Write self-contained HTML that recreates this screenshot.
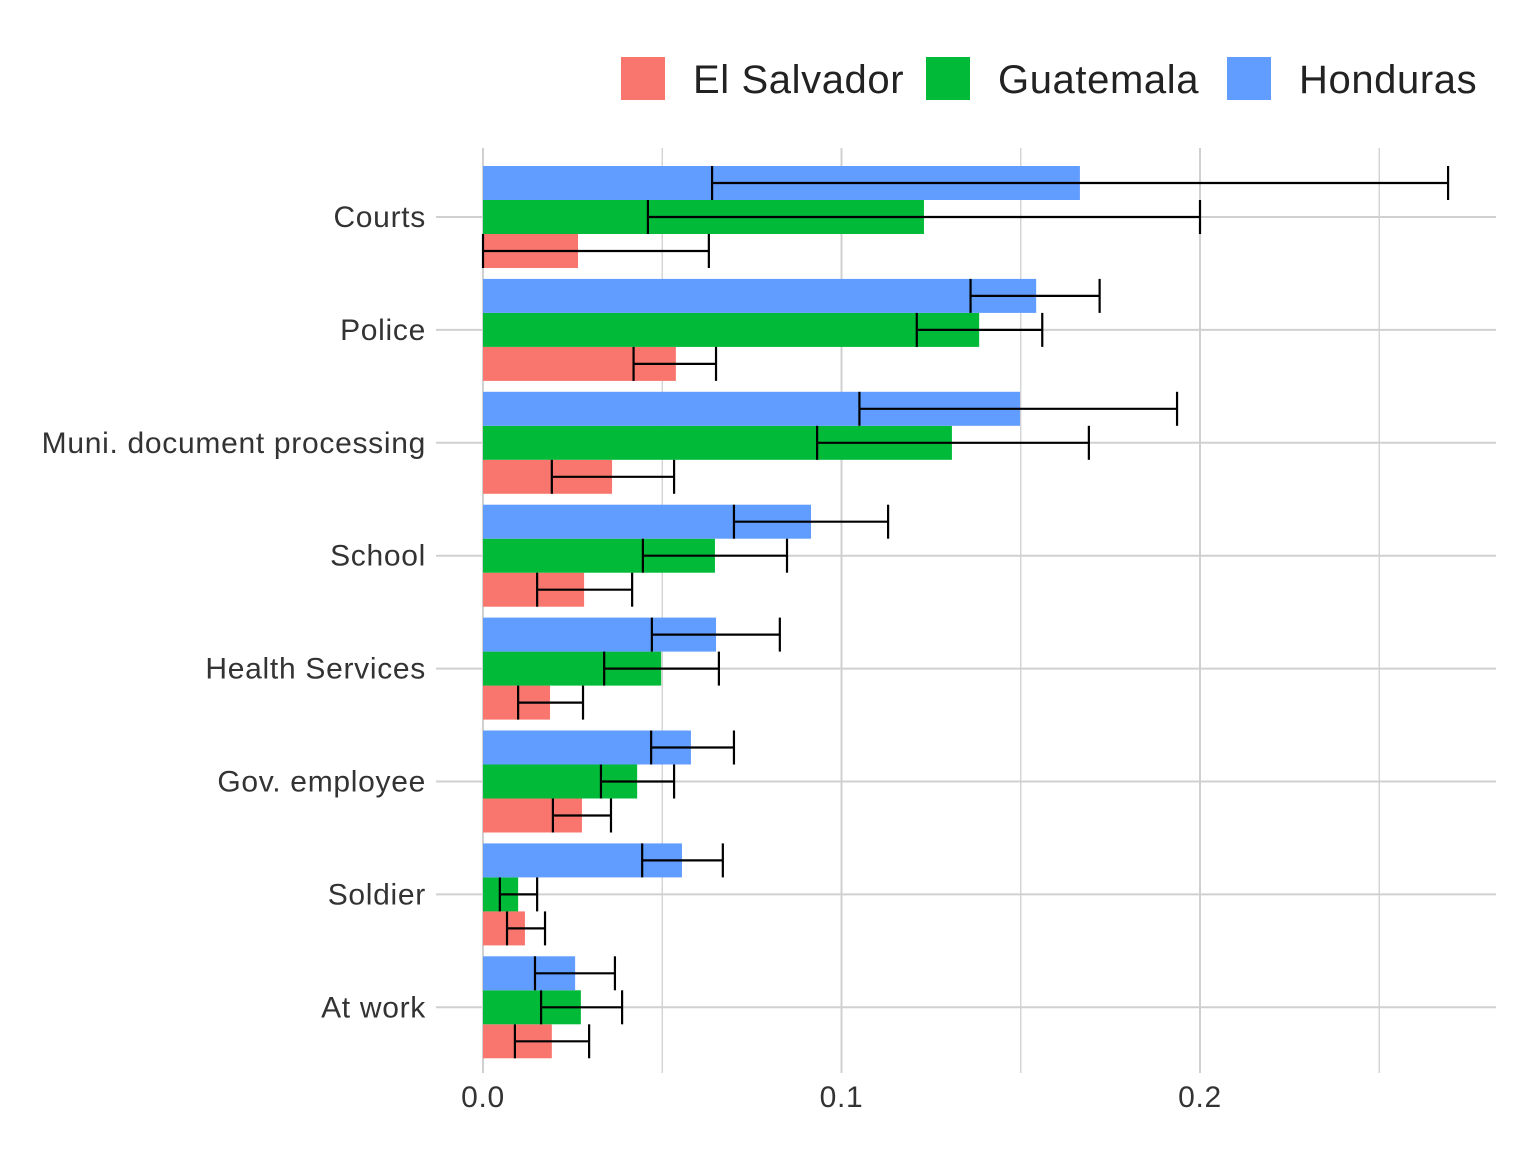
<!DOCTYPE html>
<html><head><meta charset="utf-8"><style>
html,body{margin:0;padding:0;background:#fff;}
svg{display:block;font-family:"Liberation Sans",sans-serif;}
</style></head><body>
<svg id="chart" width="1536" height="1152" viewBox="0 0 1536 1152">
<g id="grid"></g>
<g id="bars"></g>
<g id="errs"></g>
<g id="ylab"></g>
<g id="xlab"></g>
<g id="legend"></g>
</svg>
<script>
const categories=["Courts","Police","Muni. document processing","School","Health Services","Gov. employee","Soldier","At work"];
const seriesNames=["El Salvador","Guatemala","Honduras"];
const seriesColors=["#F8766D","#00BA38","#619CFF"];
const elSalvador=[0.0265,0.0538,0.036,0.0282,0.0187,0.0276,0.0117,0.0192];
const elSalvadorLo=[0,0.042,0.0192,0.0151,0.0098,0.0195,0.0067,0.0089];
const elSalvadorHi=[0.063,0.065,0.0533,0.0416,0.0279,0.0357,0.0173,0.0296];
const guatemala=[0.123,0.1384,0.1308,0.0647,0.0497,0.043,0.0098,0.0273];
const guatemalaLo=[0.046,0.121,0.0932,0.0446,0.0338,0.0329,0.0047,0.0162];
const guatemalaHi=[0.200,0.156,0.169,0.0848,0.0658,0.0533,0.0151,0.0388];
const honduras=[0.1665,0.1543,0.1498,0.0915,0.065,0.058,0.0555,0.0257];
const hondurasLo=[0.0639,0.136,0.105,0.070,0.0471,0.0469,0.0444,0.0145];
const hondurasHi=[0.2692,0.172,0.1936,0.113,0.0828,0.070,0.0669,0.0368];
const xTicks=[0,0.1,0.2];
const xTickLabels=["0.0","0.1","0.2"];
const xMinor=[0.05,0.15,0.25];

const NS="http://www.w3.org/2000/svg";
const x=v=>483+v*3585;
const yC=i=>217+i*112.9;
const barH=34;
function mk(tag,attrs,parent){const e=document.createElementNS(NS,tag);for(const k in attrs)e.setAttribute(k,attrs[k]);parent.appendChild(e);return e;}
const grid=document.getElementById('grid');
xTicks.concat(xMinor).forEach(v=>{const l=mk('line',{x1:x(v),x2:x(v),y1:148,y2:1073,stroke:'#d0d0d0','stroke-width':xTicks.includes(v)?2:1.3},grid);

});
categories.forEach((c,i)=>{const l=mk('line',{x1:436,x2:1496,y1:yC(i),y2:yC(i),stroke:'#d0d0d0','stroke-width':2},grid);

});
const vals=[elSalvador,guatemala,honduras],los=[elSalvadorLo,guatemalaLo,hondurasLo],his=[elSalvadorHi,guatemalaHi,hondurasHi];
const offs=[1,0,-1];
const bars=document.getElementById('bars'),errs=document.getElementById('errs');
categories.forEach((c,i)=>{
 for(let s=0;s<3;s++){
  const cy=yC(i)+offs[s]*barH;
  const r=mk('rect',{x:x(0),y:cy-barH/2,width:x(vals[s][i])-x(0),height:barH,fill:seriesColors[s]},bars);
  
  
  const g=mk('g',{stroke:'#000','stroke-width':2.2},errs);
  
  
  const a=x(los[s][i]),b=x(his[s][i]);
  mk('line',{x1:a,x2:b,y1:cy,y2:cy},g);
  mk('line',{x1:a,x2:a,y1:cy-barH/2,y2:cy+barH/2},g);
  mk('line',{x1:b,x2:b,y1:cy-barH/2,y2:cy+barH/2},g);
 }
 const t=mk('text',{x:426,y:yC(i)+10,'text-anchor':'end','font-size':30,'letter-spacing':0.7,fill:'#333'},document.getElementById('ylab'));
 t.textContent=c;
 
 
});
xTicks.forEach((v,i)=>{const t=mk('text',{x:x(v),y:1107,'text-anchor':'middle','font-size':30,'letter-spacing':0.7,fill:'#333'},document.getElementById('xlab'));
t.textContent=xTickLabels[i];

});
const lg=document.getElementById('legend');
const lx=[621,926,1227];
seriesNames.forEach((n,s)=>{
 const g=mk('g',{},lg);
 
 
 mk('rect',{x:lx[s],y:57,width:44,height:43,fill:seriesColors[s]},g);
 const t=mk('text',{x:lx[s]+72,y:93,'font-size':40,'letter-spacing':0.6,fill:'#222'},g);
 t.textContent=n;
});
</script>
</body></html>
